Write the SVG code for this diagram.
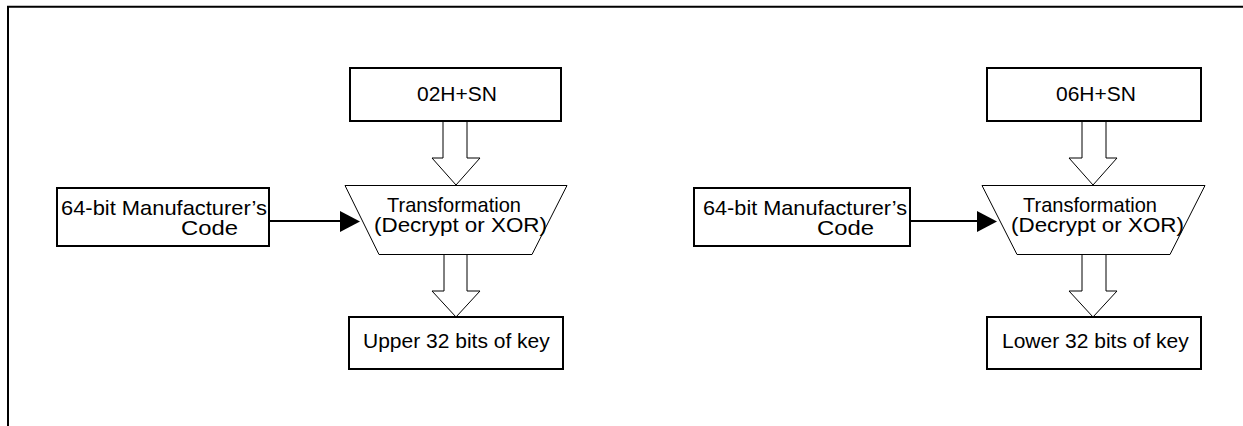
<svg xmlns="http://www.w3.org/2000/svg" width="1243" height="426" viewBox="0 0 1243 426">
<style>
.box{fill:#fff;stroke:#000;stroke-width:2}
.trap{fill:#fff;stroke:#000;stroke-width:1}
.hollow{fill:#fff;stroke:#000;stroke-width:1}
.line{stroke:#000;stroke-width:2;fill:none}
.head{fill:#000;stroke:none}
text{font-family:"Liberation Sans",Arial,sans-serif;font-size:21px;fill:#000}
</style>
<rect width="1243" height="426" fill="#fff"/>
<g id="frame">
<path d="M8,426 V6.8 H1243" fill="none" stroke="#000" stroke-width="2"/>
</g>
<g id="connectors">
<path class="hollow" d="M443,121 V158 H432 L456,185 L480,158 H467 V121"/>
<path class="hollow" d="M444,254 V291 H432 L456,317 L480,291 H467 V254"/>
<line class="line" x1="269" y1="221" x2="342" y2="221"/>
<polygon class="head" points="340,211 360,221.5 340,232"/>
<path class="hollow" d="M1082,121 V158 H1069 L1093,185 L1117,158 H1106 V121"/>
<path class="hollow" d="M1082,254 V291 H1069 L1093,317 L1117,291 H1106 V254"/>
<line class="line" x1="910" y1="221" x2="979" y2="221"/>
<polygon class="head" points="977,211 997,221.5 977,232"/>
</g>
<g id="sn-left">
<rect class="box" x="350" y="68" width="211" height="53"/>
<text x="417" y="101" textLength="80" lengthAdjust="spacingAndGlyphs">02H+SN</text>
</g>
<g id="mfr-left">
<rect class="box" x="57" y="188" width="212" height="58"/>
<text x="61" y="215" textLength="206" lengthAdjust="spacingAndGlyphs">64-bit Manufacturer’s</text>
<text x="181" y="235" textLength="57" lengthAdjust="spacingAndGlyphs">Code</text>
</g>
<g id="transform-left">
<polygon class="trap" points="345,185.5 567,185.5 532,254.5 379,254.5"/>
<text x="387" y="212" textLength="134" lengthAdjust="spacingAndGlyphs">Transformation</text>
<text x="374" y="232" textLength="173" lengthAdjust="spacingAndGlyphs">(Decrypt or XOR)</text>
</g>
<g id="upper-key">
<rect class="box" x="349" y="317" width="214" height="52"/>
<text x="363" y="348">Upper 32 bits of key</text>
</g>
<g id="sn-right">
<rect class="box" x="987" y="68" width="214" height="53"/>
<text x="1056" y="101" textLength="80" lengthAdjust="spacingAndGlyphs">06H+SN</text>
</g>
<g id="mfr-right">
<rect class="box" x="694" y="188" width="216" height="58"/>
<text x="703" y="215" textLength="204" lengthAdjust="spacingAndGlyphs">64-bit Manufacturer’s</text>
<text x="817" y="235" textLength="57" lengthAdjust="spacingAndGlyphs">Code</text>
</g>
<g id="transform-right">
<polygon class="trap" points="982,185.5 1205,185.5 1170,254.5 1017,254.5"/>
<text x="1023" y="212" textLength="134" lengthAdjust="spacingAndGlyphs">Transformation</text>
<text x="1011" y="232" textLength="173" lengthAdjust="spacingAndGlyphs">(Decrypt or XOR)</text>
</g>
<g id="lower-key">
<rect class="box" x="987" y="317" width="214" height="52"/>
<text x="1002" y="348">Lower 32 bits of key</text>
</g>
</svg>
